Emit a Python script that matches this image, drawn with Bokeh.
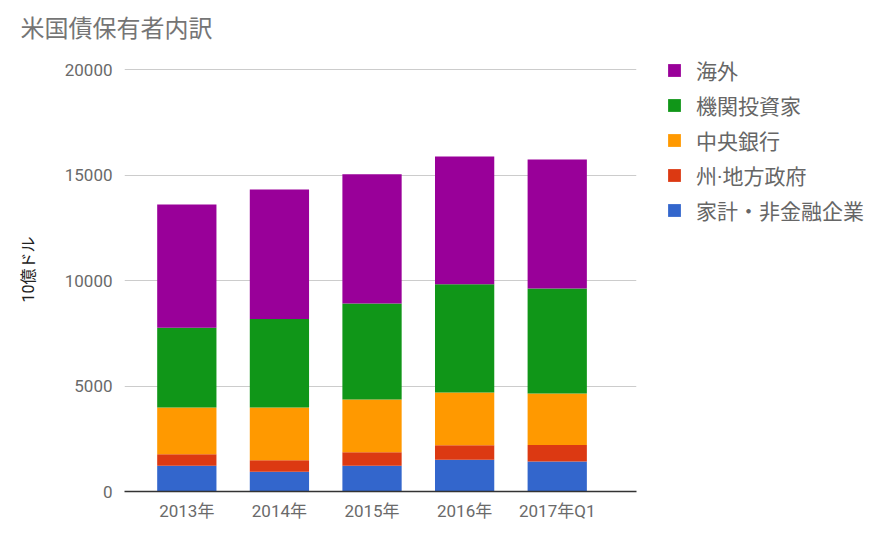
from bokeh.plotting import figure
from bokeh.models import ColumnDataSource, FixedTicker, Range1d, Legend, LegendItem
from bokeh.embed import file_html
from bokeh.resources import INLINE

categories = ["2013年", "2014年", "2015年", "2016年", "2017年Q1"]
series_names = ["家計・非金融企業", "州·地方政府", "中央銀行", "機関投資家", "海外"]
household = [1220, 935, 1220, 1500, 1425]
state_local = [550, 550, 645, 695, 775]
central_bank = [2215, 2500, 2490, 2500, 2440]
institutional = [3780, 4190, 4555, 5125, 4985]
foreign = [5840, 6140, 6120, 6060, 6105]
colors = ["#3366cc", "#dc3912", "#ff9900", "#109618", "#990099"]
y_ticks = [0, 5000, 10000, 15000, 20000]

JP = "Roboto, Noto Sans CJK JP"

keys = ["s0", "s1", "s2", "s3", "s4"]
source = ColumnDataSource(data=dict(
    x=list(range(len(categories))),
    s0=household, s1=state_local, s2=central_bank, s3=institutional, s4=foreign,
))

# frame extends 22px above the 20000 gridline so the title can sit higher
p = figure(frame_width=512, frame_height=444, output_backend="svg", toolbar_location=None,
           x_range=Range1d(-0.673, 4.856), y_range=Range1d(0, 21043),
           min_border_left=124, min_border_right=0, min_border_top=47,
           min_border_bottom=42)
p.outline_line_color = None
p.background_fill_color = "white"
p.border_fill_color = "white"

renderers = p.vbar_stack(keys, x="x", width=0.64, color=colors, source=source,
                         line_color=None)

# title
p.title.text = "米国債保有者内訳"
p.title.text_font = JP
p.title.text_font_size = "24px"
p.title.text_font_style = "normal"
p.title.text_color = "#757575"
p.title.align = "left"
p.title.offset = -104
p.title.standoff = 10

# axes
p.xaxis.ticker = FixedTicker(ticks=list(range(len(categories))))
p.xaxis.major_label_overrides = {i: c for i, c in enumerate(categories)}
p.xaxis.major_tick_line_color = None
p.xaxis.minor_tick_line_color = None
p.xaxis.axis_line_color = "#333333"
p.xaxis.axis_line_width = 1.5
p.xaxis.major_label_text_font = JP
p.xaxis.major_label_text_font_size = "17px"
p.xaxis.major_label_text_color = "#6a6a6a"
p.xaxis.major_label_standoff = 3

p.yaxis.ticker = FixedTicker(ticks=y_ticks)
p.yaxis.major_tick_line_color = None
p.yaxis.minor_tick_line_color = None
p.yaxis.major_tick_out = 0
p.yaxis.minor_tick_out = 0
p.yaxis.axis_line_color = None
p.yaxis.major_label_text_font = "Roboto"
p.yaxis.major_label_text_font_size = "17px"
p.yaxis.major_label_text_color = "#6a6a6a"
p.yaxis.major_label_standoff = 12
p.yaxis.axis_label = "10億ドル"
p.yaxis.axis_label_text_font = JP
p.yaxis.axis_label_text_font_size = "16px"
p.yaxis.axis_label_text_font_style = "normal"
p.yaxis.axis_label_text_color = "#222222"
p.yaxis.axis_label_standoff = 24

p.xgrid.grid_line_color = None
p.ygrid.grid_line_color = "#cccccc"
p.ygrid.grid_line_width = 1

items = [LegendItem(label=series_names[i], renderers=[renderers[i]]) for i in range(4, -1, -1)]
legend = Legend(items=items, location=(30, 266))
legend.border_line_color = None
legend.background_fill_alpha = 0
legend.padding = 0
legend.margin = 0
legend.glyph_width = 16
legend.glyph_height = 16
legend.label_height = 24
legend.spacing = 5
legend.label_standoff = 14
legend.label_text_font = JP
legend.label_text_font_size = "21px"
legend.label_text_color = "#666666"
legend.label_text_baseline = "middle"
p.add_layout(legend, "right")

open("out.html", "w").write(file_html(p, INLINE))
